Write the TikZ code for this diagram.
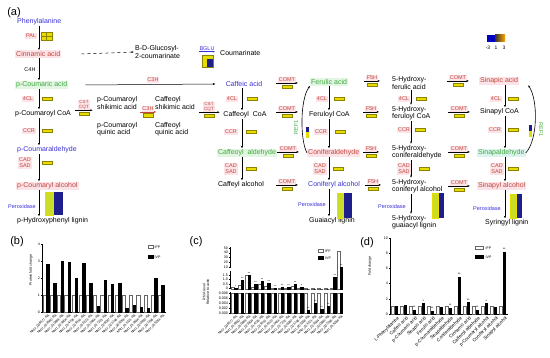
\documentclass[tikz,border=0pt]{standalone}
\usepackage{fontspec}
\setmainfont{Liberation Sans}
\usetikzlibrary{arrows.meta,positioning}
\definecolor{pathblue}{HTML}{3A2FD6}
\definecolor{pathred}{HTML}{C0473B}
\definecolor{pathgreen}{HTML}{3EA83E}
\definecolor{pathpink}{HTML}{FCE3E8}
\definecolor{pathmint}{HTML}{E3F6E3}
\definecolor{pathcyan}{HTML}{DDF4EE}
\definecolor{heatyel}{HTML}{E6DC00}
\definecolor{heatolive}{HTML}{8C8200}
\definecolor{heatblue}{HTML}{1E1E8C}
\definecolor{heatlime}{HTML}{C8DC28}
\newcommand{\cpdfont}{\fontsize{7}{7.2}\selectfont}
\newcommand{\enzfont}{\fontsize{5.5}{6}\selectfont}
\newcommand{\axfont}{\fontsize{3.6}{3.6}\selectfont}
% enzyme over a short arrow, heat map below
\newcommand{\henz}[4]{%
  \node[enz] (#1) at (#2,#3) {#4};
  \draw[harrow] ([xshift=-1.5pt]#1.south west) -- ([xshift=2pt]#1.south east);
  \node[hm, below=1.6pt of #1] (#1h) {};}
% enzyme beside a vertical step, heat map right of it
\newcommand{\venz}[5]{%
  \node[enz] (#1) at (#2,#3) {#4};
  \node[hm] (#1h) at (#5,#3) {};}
\newcommand{\tallhm}[5]{%
  \fill[heatlime] (#1,#2) rectangle (#3,#5);
  \fill[heatblue] (#3,#2) rectangle (#4,#5);
  \draw[heatyel, line width=0.6pt] (#1,#2) rectangle (#3,#5);}

\begin{document}
\begin{tikzpicture}[x=1pt, y=-1pt,
  cpd/.style={font=\cpdfont, inner sep=1pt, align=left},
  enz/.style={font=\enzfont, text=pathred, fill=pathpink, inner sep=0.8pt, align=center},
  hm/.style={draw=heatolive, fill=heatyel, line width=0.4pt, minimum width=10pt, minimum height=3.2pt, inner sep=0pt},
  varrow/.style={-{Latex[length=2.4pt,width=2pt]}, line width=0.5pt},
  harrow/.style={-{Latex[length=2.4pt,width=2pt]}, line width=0.5pt},
  tick/.style={font=\axfont, inner sep=0.5pt},
  gene/.style={font=\fontsize{3.3}{3.3}\selectfont, inner sep=0.2pt},
  dlab/.style={font=\fontsize{4.6}{4.6}\selectfont, inner sep=0.2pt},
  axis/.style={line width=0.4pt},
  wbar/.style={draw=black!60, fill=white, line width=0.3pt},
  bbar/.style={draw=black, fill=black, line width=0.3pt},
  panel/.style={font=\fontsize{11}{11}\selectfont}
]
\useasboundingbox (0,0) rectangle (550,358);

%% (a) pathway
\node[panel] (la) at (14,13) {(a)};

% first column
\node[cpd, text=pathblue, anchor=west] (phe) at (16,22) {Phenylalanine};
\node[cpd, text=pathred, fill=pathpink, anchor=west] (cin) at (15,54) {Cinnamic acid};
\node[cpd, text=pathgreen, fill=pathmint, anchor=west] (pca) at (15,85) {p-Coumaric acid};
\node[cpd, anchor=west] (pcoa) at (14,114) {p-Coumaroyl CoA};
\node[cpd, text=pathblue, anchor=west] (pcald) at (16,150) {p-Coumaraldehyde};
\node[cpd, text=pathred, fill=pathpink, anchor=west] (pcalc) at (16,186) {p-Coumaryl alcohol};
\node[cpd, anchor=west] (hlig) at (16,221) {p-Hydroxyphenyl lignin};
\coordinate (c1) at (39,0);
\draw[varrow] (phe.south -| c1) -- (cin.north -| c1);
\draw[varrow] (cin.south -| c1) -- (pca.north -| c1);
\draw[varrow] (pca.south -| c1) -- (pcoa.north -| c1);
\draw[varrow] (pcoa.south -| c1) -- (pcald.north -| c1);
\draw[varrow] (pcald.south -| c1) -- (pcalc.north -| c1);
\draw[varrow] (pcalc.south -| c1) -- (hlig.north -| c1);
\node[enz] (pal) at (31,36) {PAL};
\node[hm, minimum width=11pt, minimum height=8pt] (palh) at (46.5,36) {};
\draw[heatolive, line width=0.3pt] (palh.west) -- (palh.east);
\draw[heatolive, line width=0.3pt] (palh.north) -- (palh.south);
\node[font=\enzfont, inner sep=0.5pt] (c4h) at (30,70) {C4H};
\venz{cla}{28}{99}{4CL}{47}
\venz{ccra}{29}{131}{CCR}{47}
\venz{cada}{25}{163}{CAD\\SAD}{47}
\node[font=\enzfont, text=pathblue] (pera) at (22,207) {Peroxidase};
\tallhm{45}{192}{53}{63}{215}

% side branch to coumarinate
\node[cpd, anchor=west] (bdg) at (134,52) {B-D-Glucosyl-\\2-coumarinate};
\draw[harrow, dashed] ([xshift=20pt]cin.east) -- (bdg.west);
\node[font=\enzfont, text=pathblue, inner sep=0.5pt] (bglu) at (207,49) {BGLU};
\draw[harrow, pathblue] (bglu.south west) -- (bglu.south east);
\fill[heatyel] (202,55) rectangle (213,59);
\fill[heatyel] (202,59) rectangle (207,67);
\fill[heatblue] (207,59) rectangle (213,67);
\draw[heatolive, line width=0.3pt] (202,55) rectangle (213,67);
\node[cpd, anchor=west] (cmn) at (219,53) {Coumarinate};

% shikimate / quinate shunt
\node[enz] (c3ha) at (153,80) {C3H};
\node[enz, font=\fontsize{4.6}{4.4}\selectfont] (csta) at (84,105) {CST\\CQT};
\draw[harrow] ([xshift=-3pt]csta.south west) -- ([xshift=3pt]csta.south east);
\node[hm, below=1.6pt of csta] (cstah) {};
\node[cpd, anchor=west] (pcsa) at (96,103) {p-Coumaroyl\\shikimic acid};
\node[cpd, anchor=west] (pcqa) at (96,129) {p-Coumaroyl\\quinic acid};
\node[enz] (c3hb) at (148,109) {C3H};
\draw[harrow, pathred] ([xshift=-1pt]c3hb.south west) -- ([xshift=2pt]c3hb.south east);
\node[hm, below=1.4pt of c3hb] (c3hbh) {};
\node[cpd, anchor=west] (cfsa) at (154,103) {Caffeoyl\\shikimic acid};
\node[cpd, anchor=west] (cfqa) at (154,129) {Caffeoyl\\quinic acid};
\node[enz, font=\fontsize{4.6}{4.4}\selectfont] (cstb) at (209,107) {CST\\CQT};
\draw[harrow] ([xshift=-4pt]cstb.south west) -- ([xshift=5pt]cstb.south east);
\node[hm, below=1.6pt of cstb] (cstbh) {};

% second column
\node[cpd, text=pathblue] (caf) at (244,84) {Caffeic acid};
\node[cpd] (cfcoa) at (245,115) {Caffeoyl\ \ CoA};
\node[cpd, text=pathgreen, fill=pathmint] (cfald) at (247,153) {Caffeoyl\ \ aldehyde};
\node[cpd] (cfalc) at (241,185) {Caffeyl alcohol};
\draw[harrow] ([xshift=17pt]pca.east) -- ([xshift=-9pt]caf.west);
\coordinate (c2) at (242,0);
\draw[varrow] (caf.south -| c2) -- (cfcoa.north -| c2);
\draw[varrow] (cfcoa.south -| c2) -- (cfald.north -| c2);
\draw[varrow] (cfald.south -| c2) -- (cfalc.north -| c2);
\venz{clb}{232}{99}{4CL}{252}
\venz{ccrb}{231}{132}{CCR}{251}
\venz{cadb}{231}{169}{CAD\\SAD}{251}
\henz{comta}{287}{80}{COMT}
\henz{comtb}{287}{109}{COMT}
\henz{comtc}{288}{149}{COMT}
\henz{comtd}{287}{182}{COMT}

% third column
\node[cpd, text=pathgreen, fill=pathmint, anchor=west] (fer) at (310,82) {Ferulic acid};
\node[cpd, anchor=west] (fcoa) at (308,115) {Feruloyl CoA};
\node[cpd, text=pathred, fill=pathpink, anchor=west] (cald) at (307,153) {Coniferaldehyde};
\node[cpd, text=pathblue, anchor=west] (calc) at (307,185) {Coniferyl alcohol};
\node[cpd, anchor=west] (glig) at (308,221) {Guaiacyl lignin};
\coordinate (c3) at (329,0);
\draw[varrow] (fer.south -| c3) -- (fcoa.north -| c3);
\draw[varrow] (fcoa.south -| c3) -- (cald.north -| c3);
\draw[varrow] (cald.south -| c3) -- (calc.north -| c3);
\draw[varrow] (calc.south -| c3) -- (glig.north -| c3);
\venz{clc}{322}{99}{4CL}{339}
\venz{ccrc}{321}{132}{CCR}{340}
\venz{cadc}{320}{169}{CAD\\SAD}{338}
\node[font=\enzfont, text=pathblue] (perc) at (312,205) {Peroxidase};
\tallhm{337}{193}{343}{352}{218}
\draw[varrow, line width=0.6pt] (cald.west) .. controls (300,140) and (300,100) .. (fer.south west);
\node[font=\enzfont, text=pathgreen, rotate=90] (refa) at (296,127) {REF1};
\fill[heatblue] (306,127) rectangle (309,132);
\fill[heatyel] (306,132) rectangle (309,138);
\henz{fha}{372}{78}{F5H}
\henz{fhb}{371}{109}{F5H}
\henz{fhc}{371}{149}{F5H}
\henz{fhd}{373}{182}{F5H}

% fourth column
\node[cpd, anchor=west] (hfa) at (391,83) {5-Hydroxy-\\ferulic acid};
\node[cpd, anchor=west] (hfcoa) at (391,113) {5-Hydroxy-\\feruloyl CoA};
\node[cpd, anchor=west] (hcald) at (391,152) {5-Hydroxy-\\coniferaldehyde};
\node[cpd, anchor=west] (hcalc) at (391,186) {5-Hydroxy-\\coniferyl alcohol};
\node[cpd, anchor=west] (hglig) at (391,222) {5-Hydroxy-\\guaiacyl lignin};
\coordinate (c4) at (411,0);
\draw[varrow] (hfa.south -| c4) -- (hfcoa.north -| c4);
\draw[varrow] (hfcoa.south -| c4) -- (hcald.north -| c4);
\draw[varrow] (hcald.south -| c4) -- (hcalc.north -| c4);
\draw[varrow] (hcalc.south -| c4) -- (hglig.north -| c4);
\venz{cld}{404}{99}{4CL}{421}
\venz{ccrd}{404}{130}{CCR}{420}
\venz{cadd}{404}{169}{CAD\\SAD}{424}
\node[font=\enzfont, text=pathblue] (perd) at (392,207) {Peroxidase};
\tallhm{432}{193}{438}{444}{218}
\henz{comte}{458}{78}{COMT}
\henz{comtf}{459}{109}{COMT}
\henz{comtg}{459}{149}{COMT}
\henz{comth}{459}{183}{COMT}

% fifth column
\node[cpd, text=pathred, fill=pathpink, anchor=west] (sin) at (479,81) {Sinapic acid};
\node[cpd, anchor=west] (scoa) at (479,112) {Sinapyl CoA};
\node[cpd, text=pathgreen, fill=pathcyan, anchor=west] (sald) at (477,153) {Sinapaldehyde};
\node[cpd, text=pathred, fill=pathpink, anchor=west] (salc) at (477,186) {Sinapyl alcohol};
\node[cpd, anchor=west] (slig) at (484,223) {Syringyl lignin};
\coordinate (c5) at (505,0);
\draw[varrow] (sin.south -| c5) -- (scoa.north -| c5);
\draw[varrow] (scoa.south -| c5) -- (sald.north -| c5);
\draw[varrow] (sald.south -| c5) -- (salc.north -| c5);
\draw[varrow] (salc.south -| c5) -- (slig.north -| c5);
\venz{cle}{496}{99}{4CL}{513}
\venz{ccre}{495}{130}{CCR}{513}
\venz{cade}{497}{169}{CAD\\SAD}{513}
\node[font=\enzfont, text=pathblue] (pere) at (487,209) {Peroxidase};
\tallhm{510}{194}{516}{522}{218}
\draw[varrow, line width=0.6pt] (sald.east) .. controls (538,140) and (538,100) .. ([xshift=9pt,yshift=-4pt]sin.east);
\node[font=\enzfont, text=pathgreen, rotate=-90] (refb) at (541,130) {REF1};
\fill[heatblue] (529,125) rectangle (532,131);
\fill[heatyel] (529,131) rectangle (532,137);

% colour key
\fill[blue!75!black] (487,35) rectangle (495,42);
\shade[left color=black!80, right color=orange!70!yellow] (495,35) rectangle (505,42);
\node[font=\fontsize{5}{5}\selectfont, inner sep=0pt] (kl) at (488,47.5) {-3};
\node[font=\fontsize{5}{5}\selectfont, inner sep=0pt] (km) at (496,47.5) {1};
\node[font=\fontsize{5}{5}\selectfont, inner sep=0pt] (kh) at (504,47.5) {3};

%% (b) protein fold change
\node[panel] (lb) at (17,242) {(b)};
\draw[axis] (42,244) -- (42,312) -- (166,312);
\foreach \t in {0,...,4} {
  \draw[axis] (42,312-17*\t) -- ++(-1.5,0);
  \node[tick, anchor=east] (yb\t) at (40.5,312-17*\t) {\t};
}
\node[tick, rotate=90] (ybl) at (31,270) {Protein fold change};
\foreach \v/\g [count=\i] in {2.8/NNU\_006577-RA,1.7/NNU\_018560-RA,3.0/NNU\_010869-RA,2.95/NNU\_023804-RA,2.0/NNU\_014736-RA,2.9/NNU\_019151-RA,1.7/NNU\_016123-RA,0.35/NNU\_012464-RA,1.85/NNU\_017231-RA,1.65/NNU\_026087-RA,1.7/NNU\_021746-RA,0.25/NNU\_003268-RA,0.4/NNU\_011321-RA,0.3/NNU\_013684-RA,0.2/NNU\_020993-RA,2.0/NNU\_007356-RA,1.55/NNU\_015284-RA} {
  \pgfmathsetmacro\xa{43+(\i-1)*7.2}
  \draw[wbar] (\xa,312) rectangle ++(3.2,-17);
  \draw[bbar] (\xa+3.4,312) rectangle ++(2.3,-17*\v);
  \node[gene, rotate=45, anchor=north east] (gb\i) at (\xa+5,313.5) {\g};
}
\draw[wbar] (148,245.5) rectangle (153,248.5);
\node[tick, anchor=west] (lbi) at (154,247) {IFP};
\draw[bbar] (148,255.5) rectangle (153,258.5);
\node[tick, anchor=west] (lbv) at (154,257) {IVP};

%% (c) RNA level
\node[panel] (lc) at (196,242) {(c)};
\draw[axis] (230,247) -- (230,268);
\draw[axis] (230,271) -- (230,289);
\draw[axis] (230,292) -- (230,313) -- (343,313);
\foreach \l/\yy [count=\k] in {50/248,40/252.75,30/257.5,20/262.25,10/267,1.5/275,1.0/279.5,0.5/284,0/288.5,0.008/293,0.006/298,0.004/303,0.002/308,0.000/313} {
  \draw[axis] (230,\yy) -- ++(-1.5,0);
  \node[tick, anchor=east] (yc\k) at (228.5,\yy) {\l};
}
\node[tick, rotate=90, align=center] (ycl) at (206,292) {RNA level\\Relative to actin};
\foreach \wu/\bu/\wl/\bl/\sy/\s/\g [count=\i] in {1.5/1/20/20/286/*/NNU\_006577-RA,4/9/20/20/278/**/NNU\_018560-RA,14/14/20/20/273/**/NNU\_010869-RA,2/5/20/20/282/**/NNU\_023804-RA,5/8/20/20/279/**/NNU\_014736-RA,3/6/20/20/281/**/NNU\_019151-RA,1/1/20/20/286/**/NNU\_016123-RA,1/2/20/20/285/**/NNU\_012464-RA,1/2/20/20/285/**/NNU\_017231-RA,3/5/20/20/282/**/NNU\_026087-RA,1/1.5/20/20/285.5/*/NNU\_021746-RA,0.5/0/20/3/308/**/NNU\_003268-RA,0.5/0/20/10/301/**/NNU\_011321-RA,0.5/0/20/4/307/**/NNU\_013684-RA,0.5/0/20/7/304/**/NNU\_020993-RA,1/12/20/20/275/**/NNU\_007356-RA,38/22/20/20/265/**/NNU\_015284-RA} {
  \pgfmathsetmacro\xa{231.5+(\i-1)*6.6}
  \draw[wbar] (\xa,313) rectangle ++(3,-\wl);
  \draw[bbar] (\xa+3.1,313) rectangle ++(2.4,-\bl);
  \draw[wbar] (\xa,289) rectangle ++(3,-\wu);
  \draw[bbar] (\xa+3.1,289) rectangle ++(2.4,-\bu);
  \node[tick, font=\fontsize{3}{3}\selectfont] (sc\i) at (\xa+4.3,\sy) {\s};
  \node[gene, rotate=45, anchor=north east] (gc\i) at (\xa+4.5,314.5) {\g};
}
\draw[wbar] (318,249.5) rectangle (323,252.5);
\node[tick, anchor=west] (lci) at (324.5,251) {IFP};
\draw[bbar] (318,256.5) rectangle (323,259.5);
\node[tick, anchor=west] (lcv) at (324.5,258) {IVP};

%% (d) metabolite fold change
\node[panel] (ld) at (367,243) {(d)};
\draw[axis] (390,238) -- (390,314) -- (508,314);
\foreach \t in {0,2,...,10} {
  \draw[axis] (390,314-7.6*\t) -- ++(-1.5,0);
  \node[tick, anchor=east] (yd\t) at (388.5,314-7.6*\t) {\t};
}
\node[tick, rotate=90] (ydl) at (370,266) {Fold change};
\foreach \v/\s/\n [count=\i] in {1.0/{}/L-Phenylalanine,1.1/{}/Caffeic acid,0.5/**/p-Coumaric acid,1.4/*/Sinapic acid,0.4/**/Ferulic acid,0.9/{}/p-Coumaraldehyde,0.8/**/Sinapaldehyde,4.9/**/Coniferaldehyde,1.5/**/Cinnamic acid,0.5/**/Caffeoyl aldehyde,1.4/*/p-Coumaryl alcohol,0.9/{}/Coniferyl alcohol,8.2/**/Sinapyl alcohol} {
  \pgfmathsetmacro\xa{391+(\i-1)*9}
  \draw[wbar] (\xa,314) rectangle ++(3.6,-7.6);
  \draw[bbar] (\xa+3.8,314) rectangle ++(2.8,-7.6*\v);
  \node[tick] (sd\i) at (\xa+5.2,314-7.6*\v-2.5) {\s};
  \node[dlab, rotate=45, anchor=north east] (gd\i) at (\xa+6,315.5) {\n};
}
\draw[wbar] (475,246.5) rectangle (483,249.5);
\node[tick, anchor=west] (ldi) at (485,248) {IFP};
\draw[bbar] (475,255.5) rectangle (483,258.5);
\node[tick, anchor=west] (ldv) at (485,257) {IVP};
\end{tikzpicture}
\end{document}
